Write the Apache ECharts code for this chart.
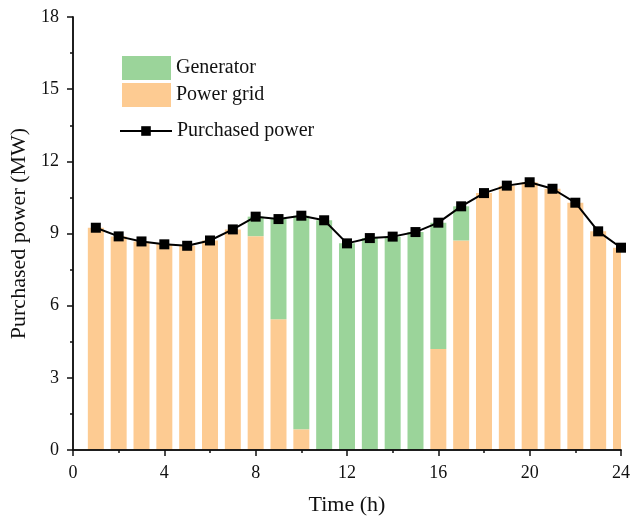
<!DOCTYPE html>
<html>
<head>
<meta charset="utf-8">
<script src="https://cdn.jsdelivr.net/npm/echarts@6/dist/echarts.min.js"></script>
<style>
  html, body { margin: 0; padding: 0; background: #fff; }
  #chart { width: 633px; height: 520px; }
</style>
</head>
<body>
<div id="chart"></div>
<script>
const hours = [1, 2, 3, 4, 5, 6, 7, 8, 9, 10, 11, 12, 13, 14, 15, 16, 17, 18, 19, 20, 21, 22, 23, 24];
// power bought from the grid (MW)
const gridPower = [9.24, 8.88, 8.67, 8.55, 8.49, 8.71, 9.17, 8.89, 5.44, 0.86, 0, 0,
  0, 0, 0, 4.20, 8.71, 10.68, 10.99, 11.13, 10.86, 10.28, 9.09, 8.41];
// power from the generator (MW)
const generatorPower = [0, 0, 0, 0, 0, 0, 0, 0.81, 4.16, 8.88, 9.55, 8.59,
  8.81, 8.87, 9.06, 5.25, 1.42, 0, 0, 0, 0, 0, 0, 0];
// total purchased power (MW)
const purchased = [9.24, 8.88, 8.67, 8.55, 8.49, 8.71, 9.17, 9.70, 9.60, 9.74, 9.55, 8.59,
  8.81, 8.87, 9.06, 9.45, 10.13, 10.68, 10.99, 11.13, 10.86, 10.28, 9.09, 8.41];

const font = 'Liberation Serif';
const ink = '#111';
const axisLine = { show: true, lineStyle: { color: ink, width: 1.5 } };
const minor = { show: true, splitNumber: 2, length: 3, lineStyle: { color: ink, width: 1.5 } };

// stacked bar drawn as [hour, bottom, top], clipped to the plot area
function stackBar (params, api) {
  const bottom = api.coord([api.value(0), api.value(1)]);
  const top = api.coord([api.value(0), api.value(2)]);
  const w = api.size([0.7, 0])[0];
  return {
    type: 'rect',
    shape: { x: bottom[0] - w / 2, y: top[1], width: w, height: bottom[1] - top[1] },
    style: api.style()
  };
}

const gridBars = hours.map((h, i) => [h, 0, gridPower[i]]);
const genBars = hours.map((h, i) => [h, gridPower[i], gridPower[i] + generatorPower[i]]);

const chart = echarts.init(document.getElementById('chart'));
chart.setOption({
  animation: false,
  textStyle: { fontFamily: font },
  grid: { left: 73, right: 12, top: 17, bottom: 70, outerBoundsMode: 'none', containLabel: false },
  legend: [
    {
      data: [{ name: 'Generator', icon: 'rect' }, { name: 'Power grid', icon: 'rect' }],
      orient: 'vertical',
      left: 122,
      top: 56,
      padding: 0,
      itemWidth: 49,
      itemHeight: 24,
      itemGap: 3,
      textStyle: { fontFamily: font, fontSize: 20, color: ink }
    },
    {
      data: ['Purchased power'],
      left: 119,
      top: 121,
      padding: 0,
      itemWidth: 52,
      itemHeight: 12,
      textStyle: { fontFamily: font, fontSize: 20, color: ink }
    }
  ],
  xAxis: [
    {
      type: 'value',
      min: 0,
      max: 24,
      interval: 4,
      name: 'Time (h)',
      nameLocation: 'middle',
      nameGap: 44,
      nameTextStyle: { fontFamily: font, fontSize: 22, color: ink },
      axisLine: axisLine,
      axisTick: { length: 6, lineStyle: { color: ink, width: 1.5 } },
      minorTick: minor,
      axisLabel: { fontFamily: font, fontSize: 18, color: ink, margin: 14 },
      splitLine: { show: false },
      z: 10
    },
    {
      type: 'value',
      position: 'top',
      min: 0,
      max: 24,
      interval: 4,
      axisLine: axisLine,
      axisTick: { inside: true, length: 6, lineStyle: { color: ink, width: 1.5 } },
      minorTick: minor,
      axisLabel: { show: false },
      splitLine: { show: false },
      z: 10
    }
  ],
  yAxis: [
    {
      type: 'value',
      min: 0,
      max: 18,
      interval: 3,
      name: 'Purchased power (MW)',
      nameLocation: 'middle',
      nameGap: 35,
      nameTextStyle: { fontFamily: font, fontSize: 22, color: ink },
      axisLine: axisLine,
      axisTick: { show: true, length: 6, lineStyle: { color: ink, width: 1.5 } },
      minorTick: minor,
      axisLabel: { fontFamily: font, fontSize: 18, color: ink, margin: 14 },
      splitLine: { show: false },
      z: 10
    },
    {
      type: 'value',
      position: 'right',
      min: 0,
      max: 18,
      interval: 3,
      axisLine: axisLine,
      axisTick: { show: true, inside: true, length: 6, lineStyle: { color: ink, width: 1.5 } },
      minorTick: minor,
      axisLabel: { show: false },
      splitLine: { show: false },
      z: 10
    }
  ],
  series: [
    {
      name: 'Power grid',
      type: 'custom',
      renderItem: stackBar,
      clip: true,
      itemStyle: { color: '#FDCB92' },
      encode: { x: 0, y: [1, 2] },
      data: gridBars
    },
    {
      name: 'Generator',
      type: 'custom',
      renderItem: stackBar,
      clip: true,
      itemStyle: { color: '#9BD49A' },
      encode: { x: 0, y: [1, 2] },
      data: genBars
    },
    {
      name: 'Purchased power',
      type: 'line',
      symbol: 'rect',
      symbolSize: 10,
      itemStyle: { color: '#000' },
      lineStyle: { color: '#000', width: 2 },
      z: 5,
      data: hours.map((h, i) => [h, purchased[i]])
    }
  ]
});
</script>
</body>
</html>
